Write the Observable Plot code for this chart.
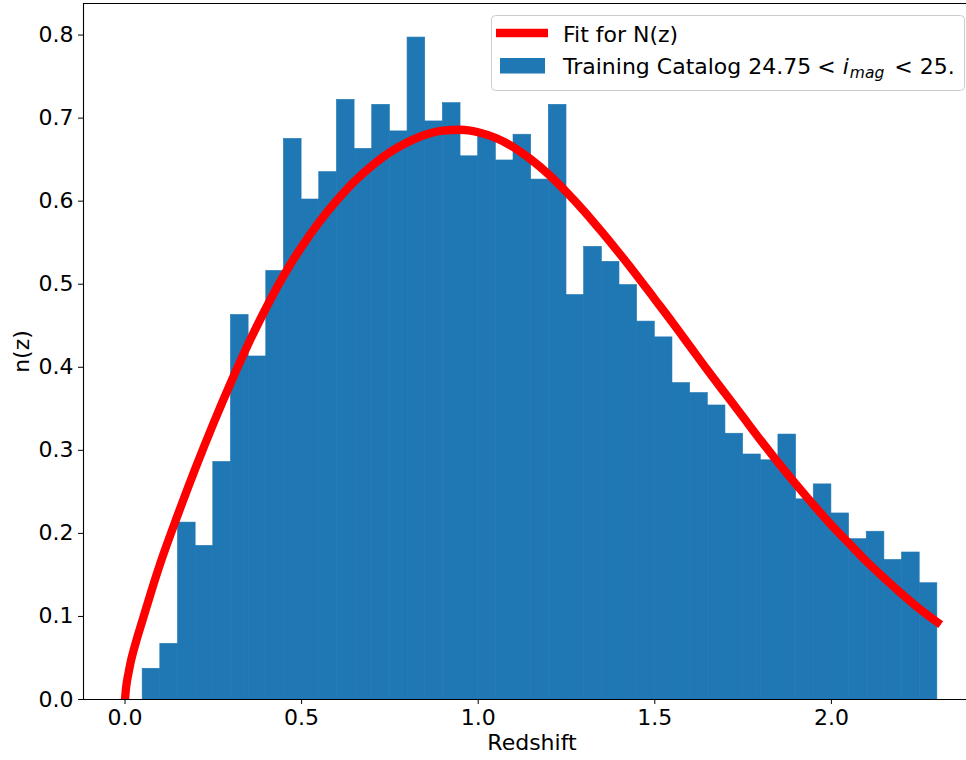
<!DOCTYPE html>
<html>
<head>
<meta charset="utf-8">
<script src="https://cdn.jsdelivr.net/npm/d3@7"></script>
<script src="https://cdn.jsdelivr.net/npm/@observablehq/plot@0.6"></script>
<style>
  html, body { margin: 0; padding: 0; background: #fff; overflow: hidden; }
  #chart { width: 966px; height: 760px; }
</style>
</head>
<body>
<div id="chart"></div>
<script>
// Histogram bins (left edges) and normalised counts n(z)
const binLeft = [0.05, 0.10, 0.15, 0.20, 0.25, 0.30, 0.35, 0.40, 0.45, 0.50,
                 0.55, 0.60, 0.65, 0.70, 0.75, 0.80, 0.85, 0.90, 0.95, 1.00,
                 1.05, 1.10, 1.15, 1.20, 1.25, 1.30, 1.35, 1.40, 1.45, 1.50,
                 1.55, 1.60, 1.65, 1.70, 1.75, 1.80, 1.85, 1.90, 1.95, 2.00,
                 2.05, 2.10, 2.15, 2.20, 2.25];
const binWidth = 0.05;
const nzValues = [0.037, 0.067, 0.213, 0.185, 0.286, 0.463, 0.413, 0.516, 0.675, 0.602,
                  0.635, 0.722, 0.663, 0.716, 0.684, 0.797, 0.696, 0.718, 0.654, 0.680,
                  0.649, 0.680, 0.626, 0.716, 0.487, 0.545, 0.527, 0.499, 0.455, 0.436,
                  0.381, 0.369, 0.354, 0.320, 0.295, 0.288, 0.319, 0.241, 0.259, 0.224,
                  0.193, 0.202, 0.168, 0.177, 0.140];

// Fit for N(z)
const fitZ = [0, 0.003, 0.006, 0.01, 0.015, 0.025, 0.035, 0.05, 0.075, 0.10,
              0.15, 0.20, 0.25, 0.30, 0.35,
              0.40, 0.45, 0.50, 0.55, 0.60, 0.65, 0.70, 0.75, 0.80, 0.85,
              0.90, 0.95, 1.00, 1.05, 1.10, 1.15, 1.20, 1.25, 1.30, 1.35,
              1.40, 1.45, 1.50, 1.55, 1.60, 1.65, 1.70, 1.75, 1.80, 1.85,
              1.90, 1.95, 2.00, 2.05, 2.10, 2.15, 2.20, 2.25, 2.30];
const fitN = [0, 0.014, 0.023, 0.032, 0.043, 0.060, 0.075, 0.096, 0.131, 0.164,
              0.223, 0.279, 0.332, 0.382, 0.429,
              0.472, 0.511, 0.545, 0.575, 0.601, 0.624, 0.643, 0.659, 0.671, 0.680,
              0.685, 0.686, 0.683, 0.676, 0.665, 0.650, 0.632, 0.611, 0.588, 0.563,
              0.537, 0.510, 0.482, 0.454, 0.425, 0.396, 0.368, 0.340, 0.312, 0.285,
              0.259, 0.234, 0.210, 0.188, 0.166, 0.146, 0.127, 0.109, 0.093];

const xTicks = [0.0, 0.5, 1.0, 1.5, 2.0];
const yTicks = [0.0, 0.1, 0.2, 0.3, 0.4, 0.5, 0.6, 0.7, 0.8];
const xLabel = "Redshift";
const yLabel = "n(z)";
const fitLabel = "Fit for N(z)";

const xDomain = [-0.1175, 2.3825];
const yDomain = [0, 0.838];

const bars = binLeft.map((x, i) => ({x1: x, x2: x + binWidth, y: nzValues[i]}));
const fit = fitZ.map((z, i) => ({z, n: fitN[i]}));

const FONT = "DejaVu Sans, sans-serif";
const BLUE = "#1f77b4";

const chart = Plot.plot({
  width: 966,
  height: 760,
  marginLeft: 83,
  marginRight: 0,
  marginTop: 3,
  marginBottom: 61,
  style: {fontFamily: FONT, fontSize: "22px", color: "#000", background: "#fff", overflow: "hidden"},
  x: {domain: xDomain},
  y: {domain: yDomain},
  marks: [
    Plot.rectY(bars, {x1: "x1", x2: "x2", y: "y", fill: BLUE, stroke: BLUE, strokeWidth: 0.6, inset: 0}),
    Plot.line(fit, {x: "z", y: "n", stroke: "#ff0000", strokeWidth: 8.3, curve: "monotone-x", strokeLinecap: "square", clip: true}),
    Plot.ruleY([yDomain[0]], {stroke: "#000", strokeWidth: 1.1}),
    Plot.ruleY([yDomain[1]], {stroke: "#000", strokeWidth: 1.1}),
    Plot.ruleX([xDomain[0]], {stroke: "#000", strokeWidth: 1.1}),
    Plot.axisX({ticks: xTicks, tickFormat: d3.format(".1f"), tickSize: 5, tickPadding: 5, label: null, fontSize: 22}),
    Plot.axisY({ticks: yTicks, tickFormat: d3.format(".1f"), tickSize: 5, tickPadding: 5, label: null, fontSize: 22}),
    Plot.text([xLabel], {frameAnchor: "bottom", dx: 7, dy: 50, text: d => d, fontSize: 22, lineAnchor: "bottom", textAnchor: "middle"}),
    Plot.text([yLabel], {frameAnchor: "left", dx: -62, rotate: -90, text: d => d, fontSize: 22, textAnchor: "middle", lineAnchor: "middle"})
  ]
});
document.getElementById("chart").appendChild(chart);

// Legend (upper right, inside axes)
const svg = d3.select(chart);
const lg = svg.append("g").attr("font-family", FONT).attr("font-size", 22)
  .attr("fill", "#000").attr("text-anchor", "start");
lg.append("rect").attr("x", 491.5).attr("y", 15.5).attr("width", 473).attr("height", 75)
  .attr("rx", 4).attr("fill", "#fff").attr("fill-opacity", 0.8).attr("stroke", "#cccccc").attr("stroke-width", 1);
lg.append("line").attr("x1", 496).attr("x2", 548).attr("y1", 33).attr("y2", 33)
  .attr("stroke", "#ff0000").attr("stroke-width", 8.3);
lg.append("rect").attr("x", 500).attr("y", 58).attr("width", 45).attr("height", 15.5).attr("fill", BLUE);
lg.append("text").attr("x", 563).attr("y", 41.5).text(fitLabel);
const t2 = lg.append("text").attr("x", 563).attr("y", 73.5);
t2.append("tspan").text("Training Catalog 24.75");
t2.append("tspan").attr("dx", 6).text("<");
t2.append("tspan").attr("dx", 7).attr("font-style", "italic").text("i");
t2.append("tspan").attr("dx", 1).attr("dy", 4.5).attr("font-size", 15.5).attr("font-style", "italic").text("mag");
t2.append("tspan").attr("dx", 3).attr("dy", -4.5).text(" < 25.");
</script>
</body>
</html>
